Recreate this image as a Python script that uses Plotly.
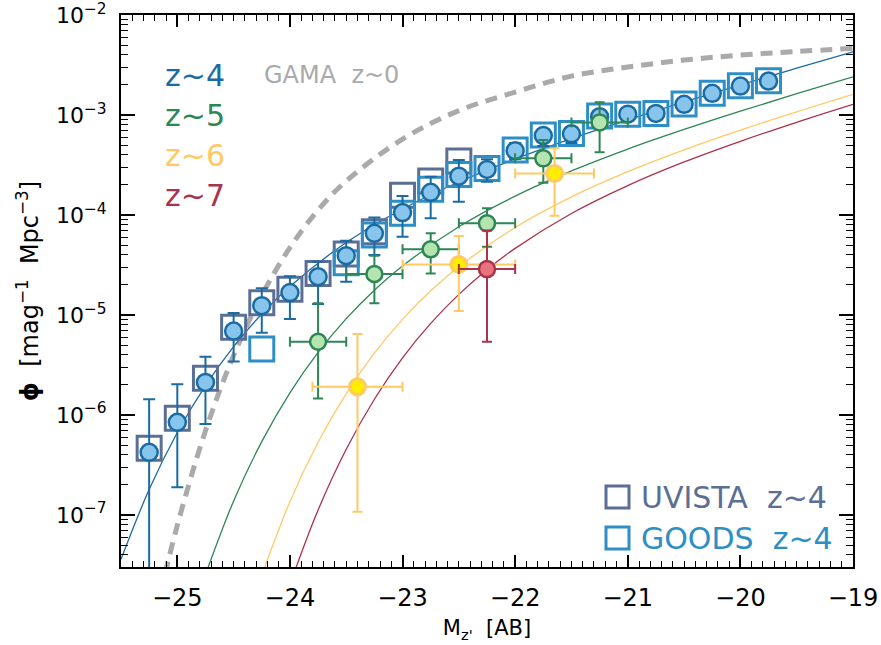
import plotly.graph_objects as go

# ---------------- data ----------------
# z~4 combined LF (circles)
m_z4 = [-25.25, -25.0, -24.75, -24.5, -24.25, -24.0, -23.75, -23.5, -23.25, -23.0,
        -22.75, -22.5, -22.25, -22.0, -21.75, -21.5, -21.25, -21.0, -20.75, -20.5,
        -20.25, -20.0, -19.75]
phi_z4 = [4.24e-7, 8.45e-7, 2.12e-6, 6.92e-6, 1.24e-5, 1.68e-5, 2.42e-5, 3.92e-5, 6.56e-5, 1.06e-4,
          1.69e-4, 2.45e-4, 2.86e-4, 4.40e-4, 6.24e-4, 6.50e-4, 9.62e-4, 1.02e-3, 1.04e-3, 1.28e-3,
          1.65e-3, 1.95e-3, 2.19e-3]
phi_z4_hi = [1.44e-6, 2.03e-6, 3.83e-6, 1.05e-5, 1.85e-5, 2.45e-5, 3.41e-5, 5.53e-5, 9.48e-5, 1.55e-4,
             2.42e-4, 3.55e-4, 3.61e-4, 5.25e-4, 7.24e-4, 7.59e-4, 1.10e-3, 1.15e-3, 1.17e-3, 1.45e-3,
             1.86e-3, 2.19e-3, 2.45e-3]
phi_z4_lo = [1e-9, 1.89e-7, 8.13e-7, 3.44e-6, 6.65e-6, 9.12e-6, 1.29e-5, 2.15e-5, 3.98e-5, 6.07e-5,
             9.27e-5, 1.36e-4, 2.15e-4, 3.63e-4, 4.90e-4, 5.25e-4, 8.32e-4, 8.91e-4, 9.12e-4, 1.12e-3,
             1.45e-3, 1.70e-3, 1.91e-3]

# UVISTA z~4 (squares)
m_uvista = [-25.25, -25.0, -24.75, -24.5, -24.25, -24.0, -23.75, -23.5, -23.25, -23.0, -22.75, -22.5]
phi_uvista = [4.65e-7, 9.27e-7, 2.33e-6, 7.53e-6, 1.33e-5, 1.81e-5, 2.61e-5, 4.07e-5, 6.81e-5,
              1.58e-4, 2.19e-4, 3.47e-4]

# GOODS z~4 (squares)
m_goods = [-24.25, -23.5, -23.25, -23.0, -22.75, -22.5, -22.25, -22.0, -21.75, -21.5, -21.25,
           -21.0, -20.75, -20.5, -20.25, -20.0, -19.75]
phi_goods = [4.57e-6, 3.33e-5, 6.31e-5, 1.04e-4, 1.81e-4, 2.55e-4, 2.93e-4, 4.47e-4, 6.31e-4,
             6.56e-4, 9.77e-4, 1.02e-3, 1.04e-3, 1.29e-3, 1.65e-3, 1.96e-3, 2.20e-3]

# z~5
m_z5 = [-23.75, -23.25, -22.75, -22.25, -21.75, -21.25]
phi_z5 = [5.41e-6, 2.57e-5, 4.54e-5, 8.26e-5, 3.69e-4, 8.45e-4]
phi_z5_hi = [1.31e-5, 3.92e-5, 6.56e-5, 1.17e-4, 5.62e-4, 1.34e-3]
phi_z5_lo = [1.46e-6, 1.31e-5, 2.61e-5, 4.82e-5, 2.10e-4, 4.24e-4]
m_z5_err = [0.25, 0.25, 0.25, 0.25, 0.25, 0.25]

# z~6
m_z6 = [-23.4, -22.5, -21.65]
phi_z6 = [1.92e-6, 3.21e-5, 2.61e-4]
phi_z6_hi = [6.46e-6, 6.17e-5, 4.65e-4]
phi_z6_lo = [1.08e-7, 1.10e-5, 9.84e-5]
m_z6_err = [0.4, 0.5, 0.35]

# z~7
m_z7 = [-22.25]
phi_z7 = [2.88e-5]
phi_z7_hi = [7.0e-5]
phi_z7_lo = [5.41e-6]
m_z7_err = [0.25]

# Model curves (log10 phi sampled along each drawn line)
m_fit4 = [-25.5, -25.25, -25.0, -24.75, -24.5, -24.25, -24.0, -23.5, -23.0, -22.5, -22.0,
          -21.5, -21.0, -20.5, -20.0, -19.5, -19.0]
lphi_fit4 = [-7.443, -6.745, -6.175, -5.705, -5.315, -4.989, -4.714, -4.275, -3.939, -3.669,
             -3.439, -3.235, -3.047, -2.869, -2.698, -2.531, -2.367]

m_fit5 = [-24.8, -24.5, -24.25, -24.0, -23.75, -23.5, -23.25, -23.0, -22.5, -22.0, -21.5,
          -21.0, -20.5, -20.0, -19.5, -19.0]
lphi_fit5 = [-7.752, -6.86, -6.266, -5.778, -5.374, -5.036, -4.751, -4.509, -4.117, -3.811,
             -3.559, -3.34, -3.144, -2.961, -2.786, -2.617]

m_fit6 = [-24.3, -24.0, -23.75, -23.5, -23.25, -23.0, -22.75, -22.5, -22.0, -21.5, -21.0,
          -20.5, -20.0, -19.5, -19.0]
lphi_fit6 = [-7.759, -6.867, -6.273, -5.785, -5.381, -5.043, -4.758, -4.516, -4.124, -3.818,
             -3.566, -3.348, -3.151, -2.968, -2.793]

m_fit7 = [-24.0, -23.75, -23.5, -23.25, -23.0, -22.75, -22.5, -22.25, -22.0, -21.5, -21.0,
          -20.5, -20.0, -19.5, -19.0]
lphi_fit7 = [-7.695, -6.95, -6.342, -5.842, -5.428, -5.084, -4.793, -4.546, -4.333, -3.984,
             -3.705, -3.469, -3.262, -3.072, -2.893]

m_gama = [-25.15, -25.0, -24.75, -24.5, -24.25, -24.0, -23.75, -23.5, -23.0, -22.5, -22.0,
          -21.5, -21.0, -20.5, -20.0, -19.5, -19.0]
lphi_gama = [-7.781, -7.103, -6.158, -5.404, -4.804, -4.326, -3.95, -3.66, -3.24, -2.955,
             -2.77, -2.61, -2.52, -2.45, -2.4, -2.364, -2.333]

x_ticks = [-25, -24, -23, -22, -21, -20, -19]
y_tick_exp = [-7, -6, -5, -4, -3, -2]

# ---------------- styling ----------------
C4 = "#1b6ba3"
C4_FILL = "#87c5ec"
C5 = "#2d8755"
C5_FILL = "#b4e4af"
C6 = "#ffc966"
C6_FILL = "#ffee00"
C7 = "#aa324b"
C7_FILL = "#e8737d"
C_GAMA = "#aaaaaa"
C_UV = "#5b6f96"
C_GOODS = "#2d8fc6"
FONT = "DejaVu Sans"

fig = go.Figure()


def curve(m, lphi, color, width=1.3, dash=None):
    fig.add_trace(go.Scatter(
        x=m, y=[10 ** v for v in lphi], mode="lines",
        line=dict(color=color, width=width, shape="spline", smoothing=1.0, dash=dash),
        hoverinfo="skip", showlegend=False))


curve(m_gama, lphi_gama, C_GAMA, width=5, dash="12px,8px")
curve(m_fit7, lphi_fit7, C7)
curve(m_fit6, lphi_fit6, C6)
curve(m_fit5, lphi_fit5, C5)
curve(m_fit4, lphi_fit4, C4)

# squares
fig.add_trace(go.Scatter(
    x=m_uvista, y=phi_uvista, mode="markers",
    marker=dict(symbol="square-open", size=24, color=C_UV, line=dict(width=3, color=C_UV)),
    showlegend=False))
fig.add_trace(go.Scatter(
    x=m_goods, y=phi_goods, mode="markers",
    marker=dict(symbol="square-open", size=24, color=C_GOODS, line=dict(width=3, color=C_GOODS)),
    showlegend=False))


def points(m, phi, hi, lo, fill, edge, ecolor, xerr=None, size=16, ewidth=2, capw=6, ew=2.5):
    err_y = dict(type="data", symmetric=False,
                 array=[h - p for h, p in zip(hi, phi)],
                 arrayminus=[p - l for p, l in zip(phi, lo)],
                 color=ecolor, thickness=ewidth, width=capw)
    err_x = None
    if xerr is not None:
        err_x = dict(type="data", array=xerr, color=ecolor, thickness=ewidth, width=capw)
    fig.add_trace(go.Scatter(
        x=m, y=phi, mode="markers", error_y=err_y, error_x=err_x,
        marker=dict(symbol="circle", size=size, color=fill, line=dict(width=ew, color=edge)),
        showlegend=False))


points(m_z4, phi_z4, phi_z4_hi, phi_z4_lo, C4_FILL, C4, C4, size=17)
points(m_z5, phi_z5, phi_z5_hi, phi_z5_lo, C5_FILL, C5, C5, xerr=m_z5_err, capw=5)
points(m_z6, phi_z6, phi_z6_hi, phi_z6_lo, C6_FILL, C6, C6, xerr=m_z6_err, capw=5, ew=3)
points(m_z7, phi_z7, phi_z7_hi, phi_z7_lo, C7_FILL, C7, C7, xerr=m_z7_err, capw=5)

# ---------------- layout ----------------
# body margin is removed below; plot area sits at page x 121..853, y 15..567
W, H = 881, 645
L, T = 121, 15
PW, PH = 853 - 121, 567 - 15
R, B = W - L - PW, H - T - PH


def px(xp):
    return (xp - 121) / PW


def py(yp):
    return (567 - yp) / PH


minor_y = [k * 10.0 ** e for e in range(-8, -2) for k in range(2, 10)]

fig.update_layout(
    width=W, height=H,
    margin=dict(l=L, r=R, t=T, b=B),
    paper_bgcolor="white", plot_bgcolor="white",
    font=dict(family=FONT, color="black", size=21),
    showlegend=False,
    xaxis=dict(
        range=[-25.5, -19], tickvals=x_ticks, automargin=False,
        ticks="inside", ticklen=12, tickwidth=1.5, tickcolor="black",
        minor=dict(ticks="inside", ticklen=6, dtick=0.1, tick0=-25, tickcolor="black", tickwidth=1.2),
        showline=True, linewidth=2, linecolor="black", mirror="ticks",
        showgrid=False, zeroline=False,
        tickfont=dict(size=24, family=FONT),
        ticklabelstandoff=8,
        title=dict(text="M<sub>z'</sub>  [AB]", font=dict(size=21, family=FONT), standoff=10),
    ),
    yaxis=dict(
        type="log", range=[-7.52, -1.999], automargin=False,
        tickvals=[10.0 ** e for e in y_tick_exp],
        ticktext=["10<sup>\u2212%d</sup>" % (-e) for e in y_tick_exp],
        ticklabeloverflow="allow",
        ticks="inside", ticklen=14, tickwidth=1.5, tickcolor="black",
        minor=dict(ticks="inside", ticklen=7, tickvals=minor_y, tickcolor="black", tickwidth=1.2),
        showline=True, linewidth=2, linecolor="black", mirror="ticks",
        showgrid=False, zeroline=False,
        tickfont=dict(size=22, family=FONT),
        ticklabelstandoff=8,
        title=dict(text="<b>\u03d5</b>  [mag<sup>\u22121</sup>  Mpc<sup>\u22123</sup>]",
                   font=dict(size=24, family=FONT), standoff=10),
    ),
)

labels = [("z~4", C4, 75), ("z~5", C5, 115), ("z~6", C6, 155), ("z~7", C7, 195)]
for txt, col, yc in labels:
    fig.add_annotation(text=txt, xref="paper", yref="paper", x=px(163), y=py(yc),
                       xanchor="left", yanchor="middle", showarrow=False,
                       font=dict(size=30, color=col, family=FONT))
fig.add_annotation(text="GAMA  z~0", xref="paper", yref="paper", x=px(262), y=py(75),
                   xanchor="left", yanchor="middle", showarrow=False,
                   font=dict(size=24, color=C_GAMA, family=FONT))

for txt, col, yc in [("UVISTA  z~4", C_UV, 497), ("GOODS  z~4", C_GOODS, 538)]:
    fig.add_annotation(text=txt, xref="paper", yref="paper", x=px(639), y=py(yc),
                       xanchor="left", yanchor="middle", showarrow=False,
                       font=dict(size=30, color=col, family=FONT))
    fig.add_shape(type="rect", xref="paper", yref="paper",
                  x0=px(606), x1=px(629), y0=py(yc - 11), y1=py(yc + 11),
                  line=dict(color=col, width=3))

fig.write_html("out.html", config={"displayModeBar": False},
               post_script="document.body.style.margin='0';document.body.style.overflow='hidden';")
